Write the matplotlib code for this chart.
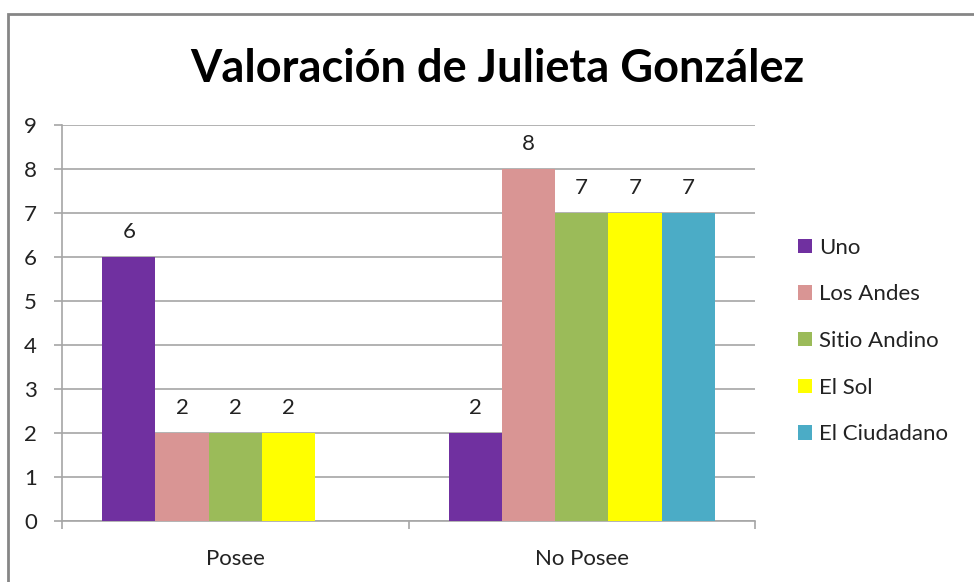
import matplotlib
matplotlib.use("Agg")
import matplotlib.pyplot as plt
import numpy as np
from matplotlib.patches import Rectangle

plt.rcParams['font.family'] = ['Lato', 'DejaVu Sans']

categories = ['Posee', 'No Posee']
series = ['Uno', 'Los Andes', 'Sitio Andino', 'El Sol', 'El Ciudadano']
values = {
    'Uno': [6, 2],
    'Los Andes': [2, 8],
    'Sitio Andino': [2, 7],
    'El Sol': [2, 7],
    'El Ciudadano': [0, 7],
}
colors = ['#7030A0', '#D99594', '#9BBB59', '#FFFF00', '#4BACC6']

fig = plt.figure(figsize=(9.74, 5.82), dpi=100)
W, H = 974, 582
ax = fig.add_axes([62 / W, 1 - 521 / H, (755 - 62) / W, (521 - 125) / H])

# outer chart border (cut off at right/bottom like the screenshot)
fig.patches.append(Rectangle((7.5 / W, -0.1), 1.2, 1 - 13.5 / H + 0.1,
                             transform=fig.transFigure, fill=False,
                             edgecolor='#868686', linewidth=2))

x = np.arange(len(categories))
bw = 0.768 / len(series)
for i, (name, col) in enumerate(zip(series, colors)):
    pos = x - 0.384 + bw * (i + 0.5)
    vals = values[name]
    ax.bar(pos, vals, width=bw, color=col, label=name, zorder=3)
    for p, v in zip(pos, vals):
        if v > 0:
            ax.text(p, v + 0.33, str(v), ha='center', va='bottom',
                    fontsize=16, color='#222222', zorder=4)

ax.set_xlim(-0.5, 1.5)
ax.set_ylim(0, 9)
ax.set_yticks(range(10))
ax.yaxis.grid(True, color='#a6a6a6', linewidth=1.2, zorder=0)
ax.set_xticks([0, 1])
ax.set_xticklabels(categories)
ax.set_xticks([-0.5, 0.5, 1.5], minor=True)
ax.tick_params(axis='x', which='major', length=0, pad=20, labelsize=16)
ax.tick_params(axis='x', which='minor', length=6, color='#a6a6a6', width=1.2)
ax.tick_params(axis='y', length=6, color='#a6a6a6', width=1.2, labelsize=16, pad=12)
for lab in ax.get_yticklabels() + ax.get_xticklabels():
    lab.set_color('#222222')
for s in ['top', 'right']:
    ax.spines[s].set_visible(False)
for s in ['left', 'bottom']:
    ax.spines[s].set_color('#a6a6a6')
    ax.spines[s].set_linewidth(1.2)

fig.text(497 / W, 1 - 69 / H, 'Valoración de Julieta González', ha='center',
         va='center', fontsize=32.5, fontweight='bold', color='black')

leg = fig.legend(loc='center left', bbox_to_anchor=(789 / W, 1 - 341 / H),
                 frameon=False, fontsize=16, handlelength=0.62, handleheight=0.62,
                 handletextpad=0.35, labelspacing=1.2, borderaxespad=0)
for t in leg.get_texts():
    t.set_color('#222222')

fig.savefig('out.png', dpi=100)
